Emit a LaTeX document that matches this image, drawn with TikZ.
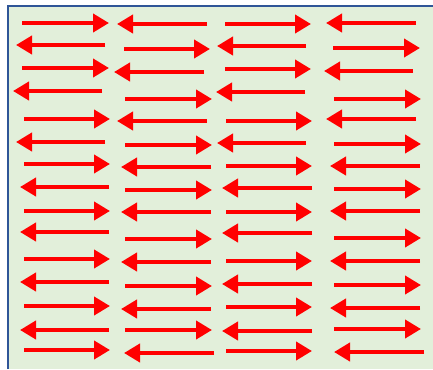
\documentclass[tikz,border=0pt]{standalone}
\usetikzlibrary{arrows.meta}
\definecolor{bggreen}{RGB}{226,239,218}
\definecolor{frameblue}{RGB}{47,85,151}
\definecolor{arrred}{RGB}{255,0,0}
\tikzset{
  arr/.style={draw=arrred, line width=4pt, -{Triangle[length=16pt,width=18pt]}, fill=arrred},
  frame/.style={draw=frameblue, line width=2.4pt}
}
\begin{document}
\begin{tikzpicture}[x=1pt,y=-1pt]
\useasboundingbox (0,0) rectangle (433,369);
\fill[white] (0,0) rectangle (433,369);
\fill[bggreen] (8,6) rectangle (433,369);
\draw[frame] (8,369) -- (8,6) -- (433,6);
% column 1 (tail/tip/y)
\foreach \a/\b/\y in {22/109/23, 105/16/45, 22/109/68, 102/13/91, 24/110/119, 105/16/142, 24/110/164, 109/20/187, 24/110/211, 109/20/232, 24/110/259, 109/20/282, 24/110/306, 109/20/330, 24/110/350}
  \draw[arr] (\a,\y) -- (\b,\y);
% column 2
\foreach \a/\b/\y in {207/117/24, 124/210/49, 204/114/72, 125/212/99, 207/117/121, 125/212/145, 211/121/167, 125/212/190, 211/121/212, 125/212/239, 211/121/262, 125/212/286, 211/121/309, 125/212/330, 214/124/353}
  \draw[arr] (\a,\y) -- (\b,\y);
% column 3
\foreach \a/\b/\y in {225/311/24, 306/217/46, 225/311/69, 305/216/92, 226/312/121, 306/217/143, 226/312/166, 312/222/188, 226/312/212, 312/222/233, 226/312/261, 312/222/284, 226/312/307, 312/222/331, 226/312/351}
  \draw[arr] (\a,\y) -- (\b,\y);
% column 4
\foreach \a/\b/\y in {416/326/23, 333/420/48, 413/324/71, 334/421/99, 416/326/119, 334/421/144, 420/330/166, 334/421/189, 420/330/211, 334/421/238, 420/330/261, 334/421/285, 420/330/308, 334/421/329, 424/334/352}
  \draw[arr] (\a,\y) -- (\b,\y);
\end{tikzpicture}
\end{document}
